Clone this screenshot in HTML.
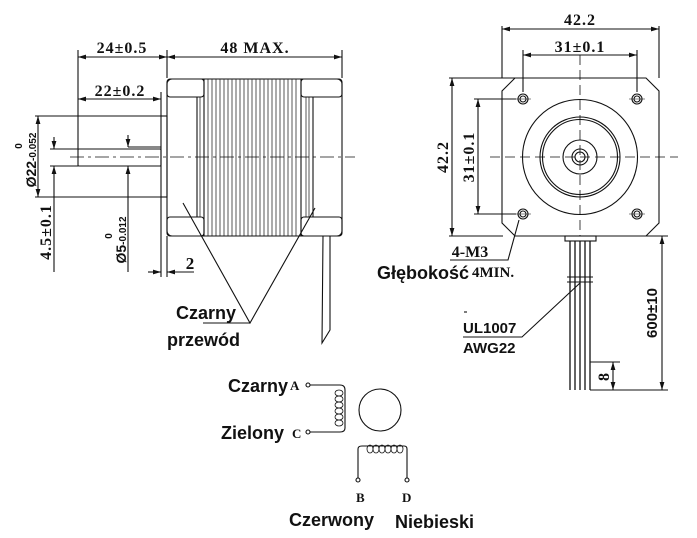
<!DOCTYPE html>
<html><head><meta charset="utf-8"><style>
body{margin:0;background:#fff}
svg{display:block}
.s{font-family:"Liberation Serif",serif;fill:#111;font-weight:bold}
.b{font-family:"Liberation Sans","DejaVu Sans",sans-serif;font-weight:bold;fill:#111}
</style></head><body>
<svg width="697" height="538" viewBox="0 0 697 538" xmlns="http://www.w3.org/2000/svg">
<defs>
<marker id="a" viewBox="0 0 10 6" refX="10" refY="3" markerWidth="8" markerHeight="5" orient="auto-start-reverse" markerUnits="userSpaceOnUse"><path d="M0,0L10,3L0,6z" fill="#111"/></marker>
</defs>
<g stroke="#111" stroke-width="1.1" fill="none">
<rect x="167" y="79" width="175" height="157" rx="5"/>
<rect x="167" y="79" width="37" height="18" rx="3"/>
<rect x="301" y="79" width="41" height="18" rx="3"/>
<rect x="167" y="217" width="37" height="19" rx="3"/>
<rect x="301" y="217" width="41" height="19" rx="3"/>
<path d="M204,79V236M301,79V236M197,97V217M313,97V217" />
<g stroke-width="0.7">
<path d="M208,79V236M212,79V236M216,79V236M220,79V236M224,79V236M228,79V236M232,79V236M236,79V236M240,79V236M244,79V236M248,79V236M252,79V236M256,79V236M260,79V236M264,79V236M268,79V236M272,79V236M276,79V236M280,79V236M284,79V236M288,79V236M292,79V236M296,79V236M200,97V217M306,97V217M309,97V217"/>
</g>
<rect x="161" y="116" width="6" height="81"/>
<rect x="78" y="149" width="83" height="17" rx="1"/>
<path d="M128,147H161"/>
<path d="M70,157H355" stroke-dasharray="14,4,3,4" stroke-width="0.8"/>
<path d="M78,50V149M167,50V78M342,50V78M161,92V116"/>
<path d="M78,57H167" marker-start="url(#a)" marker-end="url(#a)"/>
<path d="M167,57H342" marker-start="url(#a)" marker-end="url(#a)"/>
<path d="M78,99H161" marker-start="url(#a)" marker-end="url(#a)"/>
<path d="M35,116H161M35,197H161"/>
<path d="M38,116V197" marker-start="url(#a)" marker-end="url(#a)"/>
<path d="M50,149H78M50,166H78"/>
<path d="M54,137V149" marker-end="url(#a)"/>
<path d="M54,272V166" marker-end="url(#a)"/>
<path d="M128,135V147" marker-end="url(#a)"/>
<path d="M128,272V166" marker-end="url(#a)"/>
<path d="M161,197V277M167,236V277"/>
<path d="M148,272H161" marker-end="url(#a)"/>
<path d="M194,272H167" marker-end="url(#a)"/>
<path d="M183,203L250,323L315,208M203,323H250"/>
<path d="M323,236L330,236L330,330L322,343Z"/>
<path d="M515,78H646L659,91V223L646,236H515L502,223V91Z"/>
<circle cx="580" cy="157" r="57.5"/>
<circle cx="580" cy="157" r="40"/>
<circle cx="580" cy="157" r="37.5"/>
<circle cx="580" cy="157" r="17"/>
<circle cx="580" cy="157" r="8"/>
<circle cx="580" cy="157" r="5"/>
<g><circle cx="523" cy="99" r="5"/><circle cx="523" cy="99" r="3"/><circle cx="637" cy="99" r="5"/><circle cx="637" cy="99" r="3"/><circle cx="523" cy="214" r="5"/><circle cx="523" cy="214" r="3"/><circle cx="637" cy="214" r="5"/><circle cx="637" cy="214" r="3"/>
<path d="M515,99H531M629,99H645M515,214H531M629,214H645" stroke-width="0.6"/></g>
<path d="M490,157H678M580,55V236" stroke-dasharray="10,5" stroke-width="0.8"/>
<path d="M502,26V78M659,26V78M523,50V92M637,50V92"/>
<path d="M502,29H659" marker-start="url(#a)" marker-end="url(#a)"/>
<path d="M523,55H637" marker-start="url(#a)" marker-end="url(#a)"/>
<path d="M449,78H516M449,236H503M474,99H516M474,214H516"/>
<path d="M452,78V236" marker-start="url(#a)" marker-end="url(#a)"/>
<path d="M478,99V214" marker-start="url(#a)" marker-end="url(#a)"/>
<rect x="565" y="236" width="31" height="5"/>
<path d="M570,241V390M575,241V390M580,241V390M585,241V390M590,241V390" stroke-width="1.3"/>
<path d="M567,277H593M567,282H593"/>
<path d="M519,220L508,260H450"/>
<path d="M580,283L522,337H463"/>
<path d="M464,312H467"/>
<path d="M600,236H668M590,390H668M590,362H620"/>
<path d="M662,236V390" marker-start="url(#a)" marker-end="url(#a)"/>
<path d="M613,362V390" marker-start="url(#a)" marker-end="url(#a)"/>
<circle cx="308" cy="385" r="2"/>
<circle cx="308" cy="432" r="2"/>
<path d="M310,385H340Q345,385 345,390V428Q345,432 340,432H310"/>
<g stroke-width="0.8">
<ellipse cx="339" cy="393" rx="4" ry="3"/><ellipse cx="339" cy="399" rx="4" ry="3"/><ellipse cx="339" cy="405" rx="4" ry="3"/><ellipse cx="339" cy="411" rx="4" ry="3"/><ellipse cx="339" cy="417" rx="4" ry="3"/><ellipse cx="339" cy="423" rx="4" ry="3"/>
<ellipse cx="370" cy="449" rx="3" ry="4"/><ellipse cx="376" cy="449" rx="3" ry="4"/><ellipse cx="382" cy="449" rx="3" ry="4"/><ellipse cx="388" cy="449" rx="3" ry="4"/><ellipse cx="394" cy="449" rx="3" ry="4"/><ellipse cx="400" cy="449" rx="3" ry="4"/>
</g>
<circle cx="380" cy="410" r="21"/>
<path d="M358,478V449Q358,446 362,446H404Q407,446 407,449V478"/>
<circle cx="358" cy="480" r="2"/>
<circle cx="407" cy="480" r="2"/>
</g>
<g class="s" font-size="16">
<text x="122" y="53" text-anchor="middle" letter-spacing="1">24±0.5</text>
<text x="255" y="53" text-anchor="middle" letter-spacing="1">48 MAX.</text>
<text x="120" y="96" text-anchor="middle" letter-spacing="1">22±0.2</text>
<text x="190" y="269" text-anchor="middle" font-size="17">2</text>
<text x="580" y="25" text-anchor="middle" letter-spacing="1">42.2</text>
<text x="580" y="52" text-anchor="middle" letter-spacing="1">31±0.1</text>
<text x="470" y="257" text-anchor="middle">4-M3</text>
<text x="472" y="277" font-size="15">4MIN.</text>
<text transform="translate(448,157) rotate(-90)" text-anchor="middle" letter-spacing="1">42.2</text>
<text transform="translate(474,157) rotate(-90)" text-anchor="middle" letter-spacing="1">31±0.1</text>
<text transform="translate(51,232) rotate(-90)" text-anchor="middle" letter-spacing="1">4.5±0.1</text>
<text transform="translate(609,377) rotate(-90)" text-anchor="middle">8</text>
<text transform="translate(36,160) rotate(-90)" text-anchor="middle" font-family="Liberation Sans" font-size="14">Ø22<tspan font-size="10">-0.052</tspan></text>
<text transform="translate(22,146) rotate(-90)" text-anchor="middle" font-family="Liberation Sans" font-size="10">0</text>
<text transform="translate(126,240) rotate(-90)" text-anchor="middle" font-family="Liberation Sans" font-size="14">Ø5<tspan font-size="10">-0.012</tspan></text>
<text transform="translate(112,236) rotate(-90)" text-anchor="middle" font-family="Liberation Sans" font-size="10">0</text>
<text transform="translate(657,313) rotate(-90)" text-anchor="middle" font-family="Liberation Sans" font-size="15">600±10</text>
<text x="290" y="390" font-size="13">A</text>
<text x="292" y="438" font-size="13">C</text>
<text x="356" y="502" font-size="13">B</text>
<text x="402" y="502" font-size="13">D</text>
</g>
<g class="b" font-size="18">
<text x="176" y="319">Czarny</text>
<text x="167" y="346">przewód</text>
<text x="377" y="279">Głębokość</text>
<text x="228" y="392">Czarny</text>
<text x="221" y="439">Zielony</text>
<text x="289" y="526">Czerwony</text>
<text x="395" y="528">Niebieski</text>
</g>
<g font-family="Liberation Sans,sans-serif" font-weight="bold" font-size="15" fill="#111">
<text x="463" y="333">UL1007</text>
<text x="463" y="353">AWG22</text>
</g>
</svg>
</body></html>
